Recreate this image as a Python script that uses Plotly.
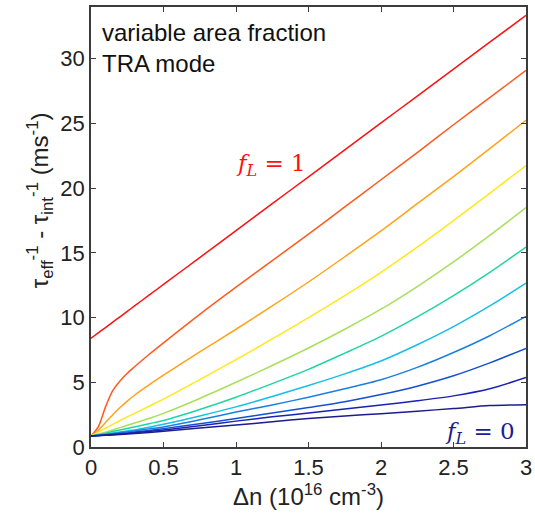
import plotly.graph_objects as go

# Shared x grid (Δn in 1e16 cm^-3)
x_vals = [0, 0.05, 0.1, 0.15, 0.2, 0.25, 0.3, 0.4, 0.5, 0.75, 1, 1.25, 1.5, 1.75, 2, 2.25, 2.5, 2.75, 3]

# f_L labels (top to bottom)
f_labels = ["1.0", "0.9", "0.8", "0.7", "0.6", "0.5", "0.4", "0.3", "0.2", "0.1", "0.0"]

y_f10 = [8.4, 8.82, 9.23, 9.65, 10.06, 10.48, 10.9, 11.73, 12.56, 14.64, 16.72, 18.8, 20.88, 22.96, 25.04, 27.12, 29.2, 31.28, 33.35]
y_f09 = [0.85, 1.55, 3.1, 4.35, 5.1, 5.7, 6.2, 7.15, 8.05, 10.25, 12.35, 14.4, 16.45, 18.55, 20.65, 22.75, 24.9, 27.0, 29.1]
y_f08 = [0.85, 1.3, 1.9, 2.5, 3.05, 3.55, 4.0, 4.8, 5.55, 7.35, 9.1, 10.9, 12.75, 14.7, 16.7, 18.8, 20.9, 23.05, 25.25]
y_f07 = [0.85, 1.15, 1.45, 1.75, 2.05, 2.33, 2.6, 3.15, 3.7, 5.2, 6.75, 8.35, 10.0, 11.7, 13.5, 15.45, 17.5, 19.6, 21.75]
y_f06 = [0.85, 1.0, 1.15, 1.32, 1.5, 1.68, 1.85, 2.2, 2.6, 3.75, 5.0, 6.3, 7.65, 9.1, 10.65, 12.4, 14.3, 16.35, 18.5]
y_f05 = [0.85, 0.95, 1.07, 1.19, 1.31, 1.43, 1.55, 1.8, 2.05, 2.9, 3.85, 4.9, 6.0, 7.25, 8.55, 10.05, 11.7, 13.5, 15.45]
y_f04 = [0.85, 0.93, 1.0, 1.08, 1.16, 1.24, 1.32, 1.52, 1.75, 2.4, 3.1, 3.9, 4.75, 5.65, 6.65, 7.9, 9.3, 10.9, 12.66]
y_f03 = [0.85, 0.9, 0.96, 1.03, 1.1, 1.17, 1.24, 1.4, 1.55, 2.1, 2.7, 3.25, 3.85, 4.5, 5.2, 6.15, 7.3, 8.6, 10.1]
y_f02 = [0.85, 0.89, 0.94, 0.99, 1.04, 1.09, 1.15, 1.28, 1.42, 1.8, 2.2, 2.62, 3.05, 3.5, 4.05, 4.7, 5.5, 6.5, 7.62]
y_f01 = [0.85, 0.88, 0.92, 0.96, 1.0, 1.05, 1.1, 1.2, 1.32, 1.65, 2.0, 2.33, 2.62, 2.93, 3.25, 3.57, 3.95, 4.5, 5.37]
y_f00 = [0.85, 0.87, 0.9, 0.93, 0.96, 1.0, 1.04, 1.13, 1.22, 1.46, 1.7, 1.95, 2.2, 2.4, 2.57, 2.77, 2.97, 3.2, 3.27]

series = [y_f10, y_f09, y_f08, y_f07, y_f06, y_f05, y_f04, y_f03, y_f02, y_f01, y_f00]
colors = ["#ff1010", "#ff5a1e", "#ffa31a", "#ffe81a", "#a8e05a", "#1fd6a0",
          "#14bfe8", "#1a80e0", "#1650d2", "#1a22b4", "#1c1c90"]

fig = go.Figure()
for lab, ys, c in zip(f_labels, series, colors):
    fig.add_trace(go.Scatter(x=x_vals, y=ys, mode="lines", name="f_L=" + lab,
                             line=dict(color=c, width=1.5, shape="spline", smoothing=0.8),
                             showlegend=False))

font_main = "Liberation Sans, Arial, sans-serif"
axis_common = dict(showline=True, linecolor="#3c3c3c", linewidth=1.5, mirror="ticks",
                   ticks="inside", ticklen=5, tickwidth=1, tickcolor="#3c3c3c",
                   showgrid=False, zeroline=False, ticklabeloverflow="allow",
                   tickfont=dict(family=font_main, size=22, color="#222222"))

fig.update_xaxes(range=[0, 3], dtick=0.5,
                 title=dict(text="Δn (10<sup>16</sup> cm<sup>-3</sup>)",
                            font=dict(family=font_main, size=24, color="#222222"), standoff=6),
                 **axis_common)
fig.update_yaxes(range=[0, 34], dtick=5, **axis_common)

# y-axis title as a rotated annotation
fig.add_annotation(x=-0.118, y=0.56, xref="paper", yref="paper", textangle=-90,
                   xanchor="center", yanchor="middle", showarrow=False,
                   text="τ<sub>eff</sub><sup>-1</sup> - τ<sub>int</sub><sup>-1</sup> (ms<sup>-1</sup>)",
                   font=dict(family=font_main, size=24, color="#222222"))

fig.add_annotation(x=0.06, y=33.2, xref="x", yref="y", xanchor="left", yanchor="top",
                   text="variable area fraction<br>TRA mode", showarrow=False, align="left",
                   font=dict(family=font_main, size=24, color="#111111"))
fig.add_annotation(x=1.24, y=21.8, xref="x", yref="y", showarrow=False,
                   text="<i>f</i><sub><i>L</i></sub> = 1",
                   font=dict(family="DejaVu Serif, Liberation Serif, serif", size=23, color="#ff1010"))
fig.add_annotation(x=2.68, y=1.1, xref="x", yref="y", showarrow=False,
                   text="<i>f</i><sub><i>L</i></sub> = 0",
                   font=dict(family="DejaVu Serif, Liberation Serif, serif", size=23, color="#1c1c90"))

fig.update_layout(width=535, height=517, margin=dict(l=91, r=3, t=7, b=70),
                  plot_bgcolor="white", paper_bgcolor="white")

fig.write_html("out.html")
